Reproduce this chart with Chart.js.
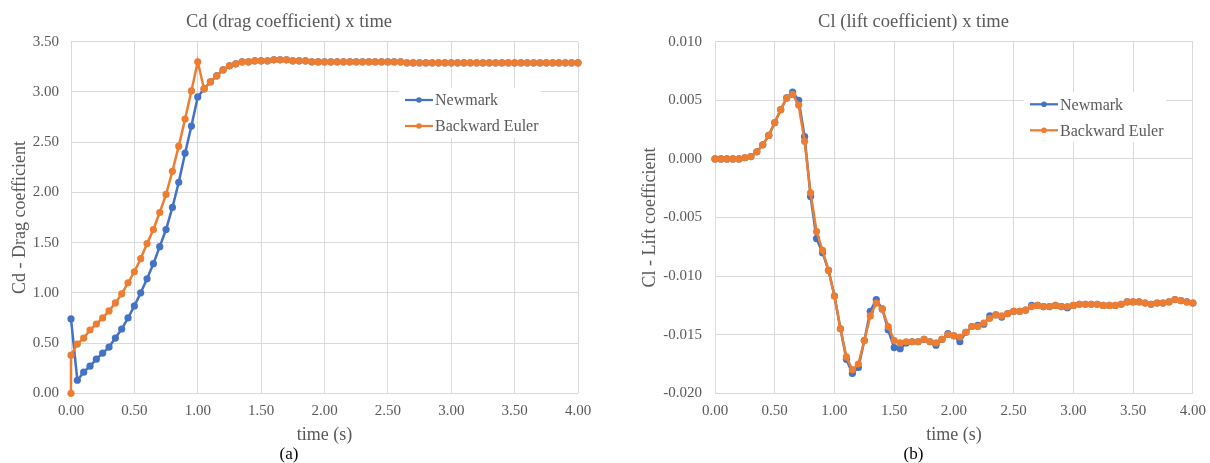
<!DOCTYPE html>
<html>
<head>
<meta charset="utf-8">
<script src="https://cdn.jsdelivr.net/npm/chart.js@4.4.1/dist/chart.umd.min.js"></script>
<style>
  html, body { margin: 0; padding: 0; background: #fff; overflow: hidden; }
  .bloc { position: absolute; top: 0; height: 463px; }
  #bloc-cd { left: 0; width: 605px; }
  #bloc-cl { left: 605px; width: 610px; }
</style>
</head>
<body>
<div class="bloc" id="bloc-cd"><canvas id="chart-cd" width="605" height="463"></canvas></div>
<div class="bloc" id="bloc-cl"><canvas id="chart-cl" width="610" height="463"></canvas></div>
<script>
const NEWMARK = "Newmark";
const EULER = "Backward Euler";
const BLEU = "#4472C4";
const ORANGE = "#ED7D31";
const GRIS = "#595959";
const POLICE = "'Liberation Serif', 'Times New Roman', serif";

// temps (s), pas de 0.05
const temps = [
    0.00, 0.05, 0.10, 0.15, 0.20, 0.25, 0.30, 0.35, 0.40, 0.45,
    0.50, 0.55, 0.60, 0.65, 0.70, 0.75, 0.80, 0.85, 0.90, 0.95,
    1.00, 1.05, 1.10, 1.15, 1.20, 1.25, 1.30, 1.35, 1.40, 1.45,
    1.50, 1.55, 1.60, 1.65, 1.70, 1.75, 1.80, 1.85, 1.90, 1.95,
    2.00, 2.05, 2.10, 2.15, 2.20, 2.25, 2.30, 2.35, 2.40, 2.45,
    2.50, 2.55, 2.60, 2.65, 2.70, 2.75, 2.80, 2.85, 2.90, 2.95,
    3.00, 3.05, 3.10, 3.15, 3.20, 3.25, 3.30, 3.35, 3.40, 3.45,
    3.50, 3.55, 3.60, 3.65, 3.70, 3.75, 3.80, 3.85, 3.90, 3.95,
    4.00
];
// Backward Euler part de 0 puis saute a 0.38 au meme instant
const tempsEuler = [0.00].concat(temps);

// Cd - coefficient de trainee
const cdNewmark = [
    0.74, 0.13, 0.21, 0.27, 0.34, 0.40, 0.46, 0.55, 0.64, 0.75,
    0.87, 1.00, 1.14, 1.29, 1.46, 1.63, 1.85, 2.10, 2.39, 2.66,
    2.95, 3.03, 3.10, 3.16, 3.22, 3.26, 3.28, 3.30, 3.30, 3.31,
    3.31, 3.31, 3.32, 3.32, 3.32, 3.31, 3.31, 3.31, 3.30, 3.30,
    3.30, 3.30, 3.30, 3.30, 3.30, 3.30, 3.30, 3.30, 3.30, 3.30,
    3.30, 3.30, 3.30, 3.29, 3.29, 3.29, 3.29, 3.29, 3.29, 3.29,
    3.29, 3.29, 3.29, 3.29, 3.29, 3.29, 3.29, 3.29, 3.29, 3.29,
    3.29, 3.29, 3.29, 3.29, 3.29, 3.29, 3.29, 3.29, 3.29, 3.29,
    3.29
];
const cdEuler = [
    0.00,
    0.38, 0.49, 0.55, 0.63, 0.69, 0.75, 0.82, 0.90, 0.99, 1.10,
    1.21, 1.34, 1.49, 1.63, 1.80, 1.98, 2.21, 2.46, 2.73, 3.01,
    3.30, 3.03, 3.10, 3.16, 3.22, 3.26, 3.28, 3.30, 3.30, 3.31,
    3.31, 3.31, 3.32, 3.32, 3.32, 3.31, 3.31, 3.31, 3.30, 3.30,
    3.30, 3.30, 3.30, 3.30, 3.30, 3.30, 3.30, 3.30, 3.30, 3.30,
    3.30, 3.30, 3.30, 3.29, 3.29, 3.29, 3.29, 3.29, 3.29, 3.29,
    3.29, 3.29, 3.29, 3.29, 3.29, 3.29, 3.29, 3.29, 3.29, 3.29,
    3.29, 3.29, 3.29, 3.29, 3.29, 3.29, 3.29, 3.29, 3.29, 3.29,
    3.29
];

// Cl - coefficient de portance
const clNewmark = [
    0.0000, 0.0000, 0.0000, 0.0000, 0.0000, 0.0001, 0.0002, 0.0006, 0.0012, 0.0020,
    0.0031, 0.0042, 0.0052, 0.0057, 0.0050, 0.0019, -0.0032, -0.0068, -0.0080, -0.0095,
    -0.0117, -0.0145, -0.0171, -0.0183, -0.0178, -0.0155, -0.0130, -0.0120, -0.0128, -0.0146,
    -0.0161, -0.0162, -0.0157, -0.0156, -0.0156, -0.0154, -0.0156, -0.0159, -0.0154, -0.0149,
    -0.0151, -0.0156, -0.0148, -0.0143, -0.0142, -0.0141, -0.0134, -0.0133, -0.0135, -0.0132,
    -0.0130, -0.0130, -0.0129, -0.0125, -0.0125, -0.0126, -0.0126, -0.0125, -0.0126, -0.0127,
    -0.0125, -0.0124, -0.0124, -0.0124, -0.0124, -0.0125, -0.0125, -0.0125, -0.0124, -0.0122,
    -0.0122, -0.0122, -0.0123, -0.0124, -0.0123, -0.0123, -0.0122, -0.0120, -0.0121, -0.0122,
    -0.0123
];
const clEuler = [
    0.0000, 0.0000, 0.0000, 0.0000, 0.0000, 0.0001, 0.0002, 0.0006, 0.0012, 0.0020,
    0.0031, 0.0042, 0.0052, 0.0055, 0.0046, 0.0015, -0.0029, -0.0062, -0.0078, -0.0095,
    -0.0117, -0.0145, -0.0169, -0.0180, -0.0175, -0.0155, -0.0134, -0.0123, -0.0128, -0.0143,
    -0.0155, -0.0157, -0.0156, -0.0156, -0.0156, -0.0154, -0.0156, -0.0157, -0.0154, -0.0150,
    -0.0151, -0.0152, -0.0148, -0.0143, -0.0143, -0.0140, -0.0136, -0.0133, -0.0134, -0.0132,
    -0.0130, -0.0130, -0.0129, -0.0126, -0.0125, -0.0126, -0.0126, -0.0125, -0.0126, -0.0126,
    -0.0125, -0.0124, -0.0124, -0.0124, -0.0124, -0.0125, -0.0125, -0.0125, -0.0124, -0.0122,
    -0.0122, -0.0122, -0.0123, -0.0124, -0.0123, -0.0123, -0.0122, -0.0120, -0.0121, -0.0122,
    -0.0123
];

// Associe les temps et les valeurs en points {x, y}
function points(listeTemps, valeurs) {
    return valeurs.map(function (v, i) {
        return {x: listeTemps[i], y: v};
    });
}

function serie(label, couleur, donnees, ordre) {
    return {
        label: label,
        data: donnees,
        showLine: true,
        borderColor: couleur,
        backgroundColor: couleur,
        borderWidth: 2.5,
        pointRadius: 3.6,
        pointBorderWidth: 0,
        pointBackgroundColor: couleur,
        clip: false,
        order: ordre
    };
}

// Legende dessinee dans la zone du graphique, fond blanc comme dans Excel
const legendeInterne = {
    id: 'legendeInterne',
    afterDraw(chart, args, opts) {
        const ctx = chart.ctx;
        const zone = chart.chartArea;
        const x0 = zone.left + opts.x;
        const y0 = zone.top + opts.y;
        ctx.save();
        ctx.fillStyle = "#ffffff";
        ctx.fillRect(x0 - 6, y0 - 12, 142, 50);
        chart.data.datasets.forEach(function (ds, i) {
            const y = y0 + i * 26;
            ctx.strokeStyle = ds.borderColor;
            ctx.lineWidth = 2.25;
            ctx.beginPath();
            ctx.moveTo(x0, y);
            ctx.lineTo(x0 + 28, y);
            ctx.stroke();
            ctx.fillStyle = ds.borderColor;
            ctx.beginPath();
            ctx.arc(x0 + 14, y, 2.8, 0, Math.PI * 2);
            ctx.fill();
            ctx.fillStyle = GRIS;
            ctx.font = "16px " + POLICE;
            ctx.textBaseline = "middle";
            ctx.textAlign = "left";
            ctx.fillText(ds.label, x0 + 30, y + 1);
        });
        ctx.restore();
    }
};

function formatTick(decimales) {
    return function (v) {
        if (Math.abs(v) < 1e-9) v = 0;
        return Number(v).toFixed(decimales);
    };
}

// Construit un graphique complet (titre, axes, legende interne)
function creerChart(idCanvas, cfg) {
    const config = {
        type: 'scatter',
        data: {datasets: cfg.datasets},
        plugins: [legendeInterne],
        options: {
            responsive: false,
            animation: false,
            layout: {padding: {left: cfg.gauche, right: cfg.droite, top: 0, bottom: 0}},
            plugins: {
                legend: {display: false},
                tooltip: {enabled: false},
                title: {
                    display: true,
                    text: cfg.titre,
                    color: GRIS,
                    font: {family: POLICE, size: 18.5, weight: 'normal', lineHeight: 1.2},
                    padding: {top: 11, bottom: 8.5}
                },
                subtitle: {
                    display: true,
                    position: 'bottom',
                    text: cfg.lettre,
                    color: "#000000",
                    font: {family: POLICE, size: 17, weight: 'normal', lineHeight: 1},
                    padding: {top: 0, bottom: 0}
                },
                legendeInterne: {x: cfg.legX, y: cfg.legY}
            },
            scales: {
                x: {
                    type: 'linear',
                    min: 0,
                    max: 4,
                    afterFit: function (s) { s.height = 52.7; },
                    ticks: {stepSize: 0.5, color: GRIS, padding: 9, maxRotation: 0,
                        font: {family: POLICE, size: 15}, callback: formatTick(2)},
                    grid: {color: "#d9d9d9", drawTicks: false},
                    border: {display: false},
                    title: {display: true, text: "time (s)", color: GRIS,
                        font: {family: POLICE, size: 18, lineHeight: 1.2}, padding: {top: 0, bottom: 0}}
                },
                y: {
                    min: cfg.yMin,
                    max: cfg.yMax,
                    afterFit: function (s) { s.width = cfg.largeurY; },
                    ticks: {stepSize: cfg.yPas, color: GRIS, padding: cfg.ecartTick,
                        font: {family: POLICE, size: 15}, callback: formatTick(cfg.decimales)},
                    grid: {color: "#d9d9d9", drawTicks: false},
                    border: {display: false},
                    title: {display: true, text: cfg.titreY, color: GRIS,
                        font: {family: POLICE, size: 18, lineHeight: 1.2}, padding: {top: 9, bottom: 0}}
                }
            }
        }
    };
    return new Chart(document.getElementById(idCanvas), config);
}

creerChart('chart-cd', {
    titre: "Cd (drag coefficient) x time",
    titreY: "Cd - Drag coefficient",
    lettre: "(a)",
    datasets: [
        serie(NEWMARK, BLEU, points(temps, cdNewmark), 2),
        serie(EULER, ORANGE, points(tempsEuler, cdEuler), 1)
    ],
    yMin: 0, yMax: 3.5, yPas: 0.5, decimales: 2,
    gauche: 0, droite: 27, largeurY: 71, ecartTick: 12,
    legX: 334, legY: 58.3
});

creerChart('chart-cl', {
    titre: "Cl (lift coefficient) x time",
    titreY: "Cl - Lift coefficient",
    lettre: "(b)",
    datasets: [
        serie(NEWMARK, BLEU, points(temps, clNewmark), 2),
        serie(EULER, ORANGE, points(temps, clEuler), 1)
    ],
    yMin: -0.02, yMax: 0.01, yPas: 0.005, decimales: 3,
    gauche: 25, droite: 18, largeurY: 85, ecartTick: 13,
    legX: 315, legY: 62.6
});
</script>
</body>
</html>
